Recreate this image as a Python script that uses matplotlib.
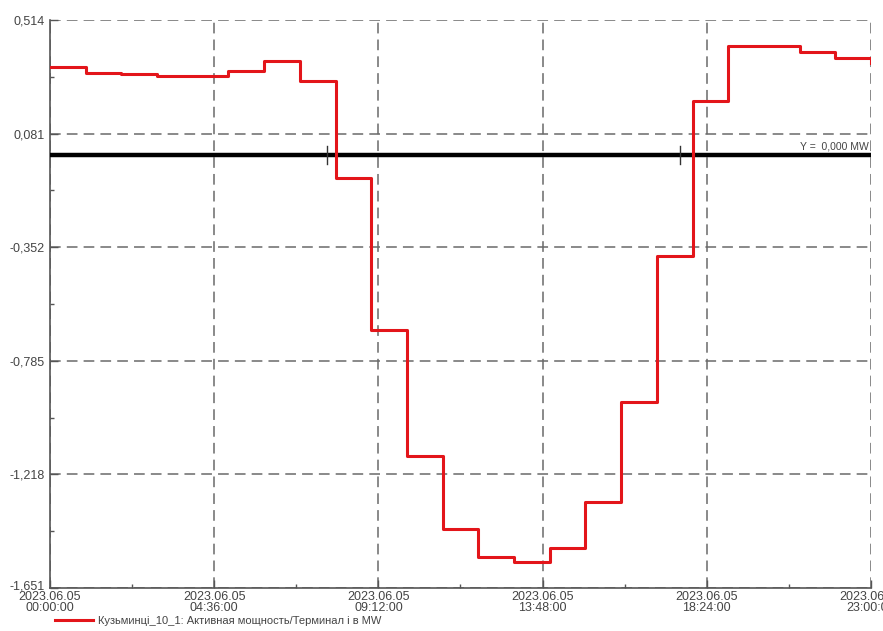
import matplotlib
matplotlib.use("Agg")
import matplotlib.pyplot as plt
import matplotlib.transforms as mtransforms
import numpy as np

plt.rcParams['font.family'] = ['Liberation Sans', 'DejaVu Sans']

# Hourly active power readings (MW), step values starting at each hour
hours = list(range(0, 24))
power_mw = [0.336, 0.311, 0.307, 0.302, 0.301, 0.321, 0.357, 0.281,
            -0.088, -0.668, -1.146, -1.428, -1.532, -1.553, -1.500, -1.324,
            -0.941, -0.384, 0.206, 0.415, 0.415, 0.393, 0.370, 0.350]

y_ticks = [0.514, 0.081, -0.352, -0.785, -1.218, -1.651]
y_tick_labels = ["0,514", "0,081", "-0,352", "-0,785", "-1,218", "-1,651"]
x_ticks_h = [0.0, 4.6, 9.2, 13.8, 18.4, 23.0]
x_tick_labels = ["2023.06.05\n00:00:00", "2023.06.05\n04:36:00", "2023.06.05\n09:12:00",
                 "2023.06.05\n13:48:00", "2023.06.05\n18:24:00", "2023.06.05\n23:00:00"]
ref_level = 0.0
cursor_hours = [7.76, 17.65]
legend_label = "Кузьминці_10_1: Активная мощность/Терминал і в MW"

fig = plt.figure(figsize=(8.83, 6.31), dpi=100)
ax = fig.add_axes([50 / 883, 1 - 588 / 631, 821 / 883, 568 / 631])

ax.set_xlim(0, 23)
ax.set_ylim(-1.651, 0.514)

grid_kw = dict(color="#6a6a6a", lw=1.1, dashes=(7, 4), zorder=1)
for y in y_ticks:
    ax.axhline(y, **grid_kw)
for x in x_ticks_h:
    ax.axvline(x, **grid_kw)

# reference level line with cursor marks
ax.axhline(ref_level, color="black", lw=3.2, zorder=3)
for ch in cursor_hours:
    ax.plot([ch, ch], [ref_level - 0.035, ref_level + 0.035], color="#333333", lw=1, zorder=3)
ax.text(22.95, ref_level + 0.012, "Y =  0,000 MW", ha="right", va="bottom",
        fontsize=7.5, color="#444444", zorder=4)

ax.plot(hours, power_mw, drawstyle="steps-post", color="#e3151a", lw=2.2, zorder=5,
        label=legend_label)

for s in ["top", "right"]:
    ax.spines[s].set_visible(False)
for s in ["left", "bottom"]:
    ax.spines[s].set_color("#555555")
    ax.spines[s].set_linewidth(1.2)

ax.set_yticks(y_ticks)
ax.set_yticklabels(y_tick_labels)
ax.set_xticks(x_ticks_h)
ax.set_xticklabels(x_tick_labels, linespacing=0.9)
ax.set_yticks([(a + b) / 2 for a, b in zip(y_ticks[:-1], y_ticks[1:])], minor=True)
ax.set_xticks([(a + b) / 2 for a, b in zip(x_ticks_h[:-1], x_ticks_h[1:])], minor=True)
ax.tick_params(axis="both", which="major", direction="in", length=6, width=1,
               color="#555555", labelsize=9, labelcolor="#444444", pad=2)
ax.tick_params(axis="both", which="minor", direction="in", length=3, width=1,
               color="#555555")
ax.tick_params(axis="y", pad=4)

# lift the lowest y label a little so it sits above the first date label
lowest = ax.get_yticklabels()[-1]
lowest.set_transform(lowest.get_transform() +
                     mtransforms.ScaledTranslation(0, 3 / 100, fig.dpi_scale_trans))

fig.legend(loc="lower left", bbox_to_anchor=(45 / 883, -0.008), frameon=False,
           fontsize=8, handlelength=3.4, handletextpad=0.5,
           labelcolor="#444444")

fig.savefig("out.png", dpi=100, facecolor="white")
